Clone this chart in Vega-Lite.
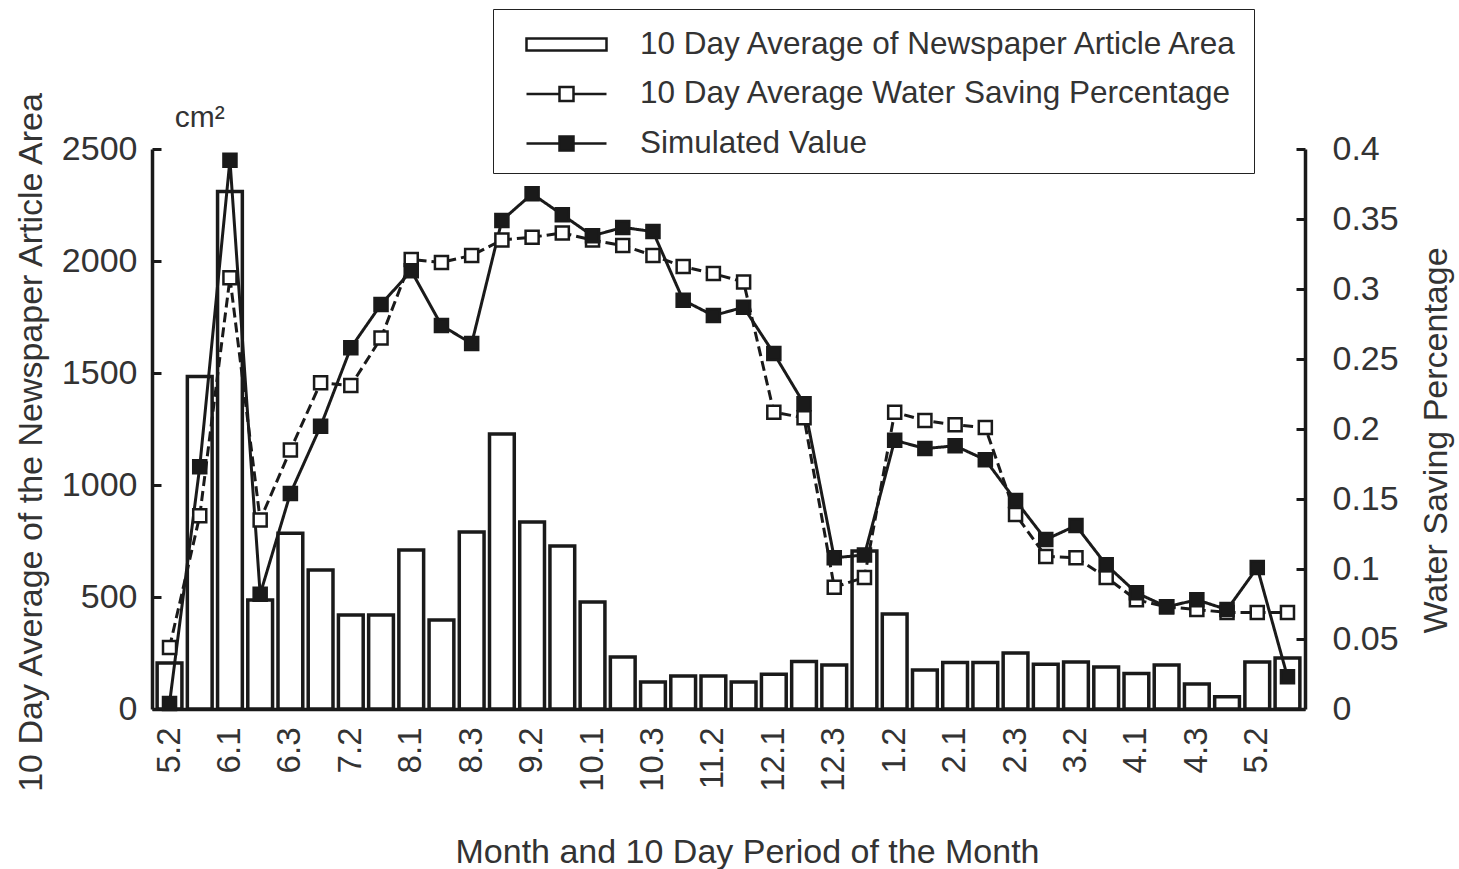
{
  "$schema": "https://vega.github.io/schema/vega-lite/v6.json",
  "width": 1153,
  "height": 560,
  "autosize": "none",
  "padding": {"left": 152, "top": 149, "right": 154, "bottom": 160},
  "background": "white",
  "config": {
    "font": "Liberation Sans",
    "view": {"stroke": null},
    "axis": {
      "grid": false,
      "domainColor": "#1a1a1a",
      "domainWidth": 3.5,
      "tickColor": "#1a1a1a",
      "tickWidth": 3,
      "labelFont": "Liberation Sans",
      "labelFontSize": 34,
      "labelColor": "#333333",
      "titleFont": "Liberation Sans",
      "titleFontSize": 34,
      "titleFontWeight": "normal",
      "titleColor": "#333333"
    }
  },
  "data": {
    "values": [
      {"i": 0, "p": "5.2", "area": 205, "obs": 0.044, "sim": 0.004},
      {"i": 1, "p": "5.3", "area": 1484, "obs": 0.138, "sim": 0.173},
      {"i": 2, "p": "6.1", "area": 2310, "obs": 0.308, "sim": 0.392},
      {"i": 3, "p": "6.2", "area": 487, "obs": 0.135, "sim": 0.082},
      {"i": 4, "p": "6.3", "area": 785, "obs": 0.185, "sim": 0.154},
      {"i": 5, "p": "7.1", "area": 620, "obs": 0.233, "sim": 0.202},
      {"i": 6, "p": "7.2", "area": 420, "obs": 0.231, "sim": 0.258},
      {"i": 7, "p": "7.3", "area": 420, "obs": 0.265, "sim": 0.289},
      {"i": 8, "p": "8.1", "area": 710, "obs": 0.321, "sim": 0.313},
      {"i": 9, "p": "8.2", "area": 397, "obs": 0.319, "sim": 0.274},
      {"i": 10, "p": "8.3", "area": 790, "obs": 0.324, "sim": 0.261},
      {"i": 11, "p": "9.1", "area": 1228, "obs": 0.335, "sim": 0.349},
      {"i": 12, "p": "9.2", "area": 835, "obs": 0.337, "sim": 0.368},
      {"i": 13, "p": "9.3", "area": 728, "obs": 0.34, "sim": 0.353},
      {"i": 14, "p": "10.1", "area": 478, "obs": 0.335, "sim": 0.338},
      {"i": 15, "p": "10.2", "area": 232, "obs": 0.331, "sim": 0.344},
      {"i": 16, "p": "10.3", "area": 120, "obs": 0.324, "sim": 0.341},
      {"i": 17, "p": "11.1", "area": 147, "obs": 0.316, "sim": 0.292},
      {"i": 18, "p": "11.2", "area": 147, "obs": 0.311, "sim": 0.281},
      {"i": 19, "p": "11.3", "area": 120, "obs": 0.305, "sim": 0.287},
      {"i": 20, "p": "12.1", "area": 155, "obs": 0.212, "sim": 0.254},
      {"i": 21, "p": "12.2", "area": 212, "obs": 0.208, "sim": 0.218},
      {"i": 22, "p": "12.3", "area": 196, "obs": 0.087, "sim": 0.108},
      {"i": 23, "p": "1.1", "area": 705, "obs": 0.094, "sim": 0.11},
      {"i": 24, "p": "1.2", "area": 424, "obs": 0.212, "sim": 0.192},
      {"i": 25, "p": "1.3", "area": 174, "obs": 0.206, "sim": 0.186},
      {"i": 26, "p": "2.1", "area": 208, "obs": 0.203, "sim": 0.188},
      {"i": 27, "p": "2.2", "area": 208, "obs": 0.201, "sim": 0.178},
      {"i": 28, "p": "2.3", "area": 250, "obs": 0.139, "sim": 0.149},
      {"i": 29, "p": "3.1", "area": 200, "obs": 0.109, "sim": 0.121},
      {"i": 30, "p": "3.2", "area": 210, "obs": 0.108, "sim": 0.131},
      {"i": 31, "p": "3.3", "area": 187, "obs": 0.094, "sim": 0.103},
      {"i": 32, "p": "4.1", "area": 158, "obs": 0.078, "sim": 0.083},
      {"i": 33, "p": "4.2", "area": 196, "obs": 0.073, "sim": 0.073},
      {"i": 34, "p": "4.3", "area": 112, "obs": 0.071, "sim": 0.078},
      {"i": 35, "p": "5.1", "area": 55, "obs": 0.069, "sim": 0.071},
      {"i": 36, "p": "5.2", "area": 210, "obs": 0.069, "sim": 0.101},
      {"i": 37, "p": "5.3", "area": 228, "obs": 0.069, "sim": 0.023}
    ]
  },
  "encoding": {
    "x": {
      "field": "i",
      "type": "ordinal",
      "scale": {"paddingInner": 0.18, "paddingOuter": 0.17},
      "axis": {
        "title": "Month and 10 Day Period of the Month",
        "labelExpr": "datum.value % 2 == 0 ? ['5.2','5.3','6.1','6.2','6.3','7.1','7.2','7.3','8.1','8.2','8.3','9.1','9.2','9.3','10.1','10.2','10.3','11.1','11.2','11.3','12.1','12.2','12.3','1.1','1.2','1.3','2.1','2.2','2.3','3.1','3.2','3.3','4.1','4.2','4.3','5.1','5.2','5.3'][datum.value] : ''",
        "labelAngle": -90,
        "labelAlign": "right",
        "labelBaseline": "middle",
        "labelFontSize": 33,
        "labelPadding": 18,
        "ticks": false,
        "titlePadding": 44,
        "titleX": 595
      }
    }
  },
  "layer": [
    {
      "layer": [
        {
          "mark": {"type": "bar", "stroke": "#1a1a1a", "strokeWidth": 3.5},
          "encoding": {
            "y": {
              "field": "area",
              "type": "quantitative",
              "scale": {"domain": [0, 2500], "nice": false},
              "axis": {
                "orient": "left",
                "values": [0, 500, 1000, 1500, 2000, 2500],
                "format": "d",
                "tickSize": -9,
                "labelPadding": 24,
                "title": "10 Day Average of the Newspaper Article Area",
                "titlePadding": 13,
                "titleY": 293
              }
            },
            "fill": {
              "datum": "area",
              "scale": {"domain": ["area", "obs", "sim"], "range": ["white", "white", "#1a1a1a"]},
              "legend": {
                "title": null,
                "orient": "none",
                "legendX": 341,
                "legendY": -140,
                "direction": "vertical",
                "padding": 14,
                "strokeColor": "#222222",
                "fillColor": "white",
                "symbolSize": 1600,
                "symbolType": {"expr": "datum.value == 'area' ? 'M-0.1,-0.3H3.9V0.3H-0.1Z' : 'M-0.1,0H1.55M2.25,0H3.9M1.55,-0.35H2.25V0.35H1.55Z'"},
                "symbolStrokeColor": "#1a1a1a",
                "symbolStrokeWidth": 2.5,
                "symbolOpacity": 1,
                "labelFont": "Liberation Sans",
                "labelFontSize": 31.5,
                "labelColor": "#333333",
                "labelOffset": 90,
                "labelLimit": 900,
                "rowPadding": 12.5,
                "labelExpr": "datum.value == 'area' ? '10 Day Average of Newspaper Article Area' : datum.value == 'obs' ? '10 Day Average Water Saving Percentage' : 'Simulated Value'"
              }
            }
          }
        },
        {
          "data": {"values": [{"t": "cm²"}]},
          "mark": {"type": "text", "fontSize": 30, "color": "#333333", "dy": -31, "baseline": "middle", "font": "Liberation Sans"},
          "encoding": {
            "x": {"datum": 1, "type": "ordinal"},
            "y": {"datum": 2500, "type": "quantitative"},
            "text": {"field": "t"}
          }
        }
      ]
    },
    {
      "transform": [{"fold": ["obs", "sim"], "as": ["series", "value"]}],
      "encoding": {
        "y": {
          "field": "value",
          "type": "quantitative",
          "scale": {"domain": [0, 0.4], "nice": false},
          "axis": {
            "orient": "right",
            "values": [0, 0.05, 0.1, 0.15, 0.2, 0.25, 0.3, 0.35, 0.4],
            "format": "~g",
            "tickSize": -9,
            "labelPadding": 36,
            "title": "Water Saving Percentage",
            "titleAngle": -90,
            "titleBaseline": "top",
            "titlePadding": 21,
            "titleY": 291
          }
        }
      },
      "layer": [
        {
          "mark": {"type": "line", "stroke": "#1a1a1a", "strokeWidth": 3},
          "encoding": {
            "strokeDash": {
              "field": "series",
              "type": "nominal",
              "scale": {"domain": ["obs", "sim"], "range": [[10, 5], [1, 0]]},
              "legend": null
            }
          }
        },
        {
          "mark": {"type": "point", "shape": "square", "filled": true, "stroke": "#1a1a1a", "strokeWidth": 2.5, "opacity": 1, "size": 170},
          "encoding": {
            "fill": {
              "field": "series",
              "type": "nominal",
              "scale": {"domain": ["area", "obs", "sim"], "range": ["white", "white", "#1a1a1a"]},
              "legend": {
                "title": null,
                "orient": "none",
                "legendX": 341,
                "legendY": -140,
                "direction": "vertical",
                "padding": 14,
                "strokeColor": "#222222",
                "fillColor": "white",
                "symbolSize": 1600,
                "symbolType": {"expr": "datum.value == 'area' ? 'M-0.1,-0.3H3.9V0.3H-0.1Z' : 'M-0.1,0H1.55M2.25,0H3.9M1.55,-0.35H2.25V0.35H1.55Z'"},
                "symbolStrokeColor": "#1a1a1a",
                "symbolStrokeWidth": 2.5,
                "symbolOpacity": 1,
                "labelFont": "Liberation Sans",
                "labelFontSize": 31.5,
                "labelColor": "#333333",
                "labelOffset": 90,
                "labelLimit": 900,
                "rowPadding": 12.5,
                "labelExpr": "datum.value == 'area' ? '10 Day Average of Newspaper Article Area' : datum.value == 'obs' ? '10 Day Average Water Saving Percentage' : 'Simulated Value'"
              }
            }
          }
        }
      ]
    }
  ],
  "resolve": {"scale": {"y": "independent"}}
}
